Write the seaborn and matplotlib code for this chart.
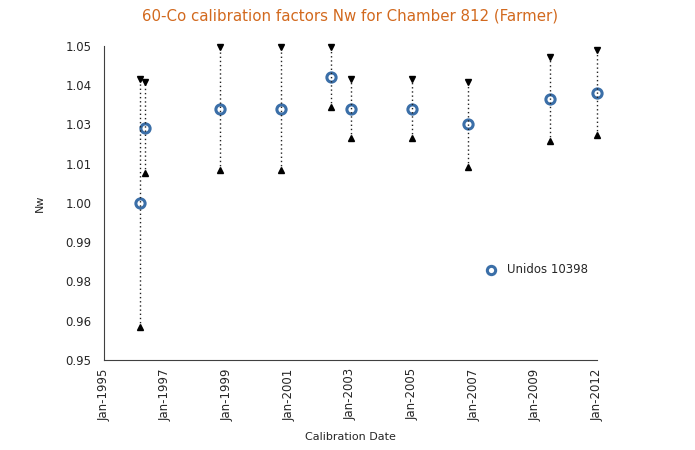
import pandas as pd
import numpy as np
import matplotlib
matplotlib.use("Agg")
import matplotlib.pyplot as plt
import seaborn as sns

# 校准日期与Nw值
cal_dates = ["1996-03-05", "1996-05-01", "1998-10-12", "2000-09-24", "2002-05-15",
             "2003-01-10", "2004-12-28", "2006-10-22", "2009-06-20", "2011-01-01"]
nw = [1.000, 1.024, 1.030, 1.030, 1.040, 1.030, 1.030, 1.025, 1.033, 1.035]
nw_high = [1.0394, 1.0384, 1.0496, 1.0496, 1.0498, 1.0394, 1.0394, 1.0384, 1.0466, 1.0487]
nw_low = [0.9604, 1.0095, 1.0105, 1.0105, 1.0305, 1.0206, 1.0206, 1.0116, 1.0196, 1.0216]

x_ticks = [1995, 1997, 1999, 2001, 2003, 2005, 2007, 2009, 2011]
x_ticklabels = ["Jan-1995", "Jan-1997", "Jan-1999", "Jan-2001", "Jan-2003",
                "Jan-2005", "Jan-2007", "Jan-2009", "Jan-2012"]
y_ticklabels = ["0.95", "0.96", "0.98", "0.99", "1.00", "1.01", "1.03", "1.04", "1.05"]


def to_year(s):
    d = pd.to_datetime(s)
    return d.year + (d.dayofyear - 1) / 365.25


df = pd.DataFrame({"date": [to_year(s) for s in cal_dates], "nw": nw,
                   "high": nw_high, "low": nw_low})

sns.set_style("white")
plt.rcParams["font.family"] = ["DejaVu Sans"]

fig = plt.figure(figsize=(6.95, 4.5), dpi=100)
ax = fig.add_axes([0.1496, 0.2, 0.7094, 0.6978])

# 误差线（虚线+三角形端点）
ax.vlines(df["date"], df["low"], df["high"], colors="#222222",
          linestyles=(0, (1, 2)), linewidth=1, zorder=3, clip_on=False)
ax.plot(df["date"], df["high"], "v", color="black", markersize=4.5, clip_on=False, zorder=4)
ax.plot(df["date"], df["low"], "^", color="black", markersize=4.5, clip_on=False, zorder=4)

sns.scatterplot(data=df, x="date", y="nw", ax=ax, marker="o", s=44,
                facecolor="white", edgecolor="#3B6FA8", linewidth=2.2,
                label="Unidos 10398", zorder=2, clip_on=False)

ax.set_xlim(1995, 2011)
ax.set_ylim(0.95, 1.05)
ax.set_xticks(x_ticks)
ax.set_xticklabels(x_ticklabels, rotation=90, fontsize=8.5)
ax.set_yticks(np.linspace(0.95, 1.05, 9))
ax.set_yticklabels(y_ticklabels, fontsize=8.5)
ax.tick_params(direction="in", length=3, width=0.8, color="#404040")
ax.tick_params(axis="y", pad=9)
ax.tick_params(axis="x", pad=6)

for side in ["top", "right"]:
    ax.spines[side].set_visible(False)
for side in ["left", "bottom"]:
    ax.spines[side].set_color("#404040")
    ax.spines[side].set_linewidth(0.8)

ax.set_xlabel("Calibration Date", fontsize=8, labelpad=8)
ax.set_ylabel("Nw", fontsize=8, labelpad=15)
ax.set_title("60-Co calibration factors Nw for Chamber 812 (Farmer)",
             color="#D2691E", fontsize=10.8, pad=18)

ax.legend(loc="center left", bbox_to_anchor=(0.74, 0.287), frameon=False,
          fontsize=8.5, handletextpad=0.3, markerscale=0.9)

fig.savefig("out.png", dpi=100)
